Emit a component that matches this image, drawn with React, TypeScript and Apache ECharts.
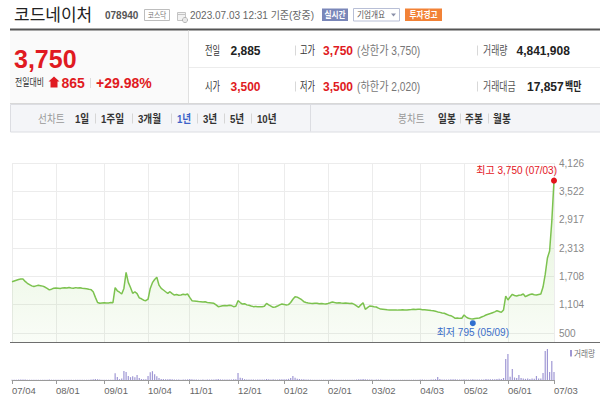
import React, { useEffect, useRef } from "react";
import * as echarts from "echarts";

// ---------- data ----------
const HOLIDAYS = [
  "2022.08.15", "2022.09.09", "2022.09.12", "2022.10.03", "2022.10.10", "2022.12.30",
  "2023.01.23", "2023.01.24", "2023.03.01", "2023.05.01", "2023.05.05", "2023.05.29", "2023.06.06",
];

function buildTradingDays(): string[] {
  const out: string[] = [];
  const d = new Date(Date.UTC(2022, 6, 4));
  const end = Date.UTC(2023, 6, 3);
  while (d.getTime() <= end) {
    const wd = d.getUTCDay();
    const s = `${d.getUTCFullYear()}.${String(d.getUTCMonth() + 1).padStart(2, "0")}.${String(d.getUTCDate()).padStart(2, "0")}`;
    if (wd !== 0 && wd !== 6 && !HOLIDAYS.includes(s)) out.push(s);
    d.setUTCDate(d.getUTCDate() + 1);
  }
  return out;
}
const DATES = buildTradingDays();

// daily close (원)
const PRICES = [
  1594, 1610, 1625, 1640, 1650, 1652, 1600, 1560, 1530, 1505,
  1490, 1505, 1517, 1510, 1500, 1480, 1450, 1420, 1435, 1453,
  1460, 1455, 1448, 1462, 1466, 1458, 1470, 1462, 1455, 1468,
  1460, 1466, 1455, 1450, 1445, 1432, 1425, 1380, 1260, 1150,
  1133, 1140, 1146, 1138, 1142, 1150, 1146, 1466, 1400, 1370,
  1332, 1450, 1795, 1580, 1470, 1347, 1380, 1340, 1250, 1230,
  1200, 1189, 1220, 1450, 1573, 1640, 1688, 1520, 1453, 1417,
  1380, 1347, 1381, 1340, 1310, 1320, 1305, 1310, 1325, 1315,
  1332, 1260, 1189, 1180, 1175, 1170, 1168, 1160, 1165, 1150,
  1145, 1140, 1133, 1100, 1062, 1070, 1080, 1085, 1080, 1090,
  1085, 1062, 1070, 1189, 1150, 1118, 1125, 1100, 1090, 1075,
  1062, 1065, 1060, 1058, 1062, 1070, 1133, 1100, 1075, 1048,
  1055, 1075, 1100, 1118, 1110, 1097, 1105, 1150, 1220, 1274,
  1265, 1240, 1210, 1168, 1150, 1140, 1133, 1128, 1135, 1133,
  1125, 1130, 1122, 1118, 1130, 1145, 1161, 1150, 1140, 1145,
  1138, 1133, 1140, 1135, 1130, 1133, 1110, 1080, 1048, 1100,
  1147, 1005, 1040, 1076, 1070, 1062, 1055, 1030, 1010, 1005,
  1000, 995, 992, 990, 990, 993, 988, 990, 995, 992,
  990, 996, 1000, 1005, 1003, 1008, 1005, 998, 995, 990,
  985, 980, 976, 965, 950, 940, 928, 920, 900, 880,
  869, 845, 814, 818, 812, 814, 884, 840, 814, 805,
  800, 810, 815, 820, 840, 860, 884, 900, 915, 933,
  950, 976, 960, 941, 992, 1289, 1204, 1270, 1325, 1300,
  1290, 1305, 1310, 1332, 1274, 1300, 1320, 1332, 1315, 1310,
  1320, 1330, 1480, 1750, 2100, 2250, 2885, 3750,
];

// daily volume (thousand shares)
const VOLUMES = [
  180, 150, 220, 260, 310, 280, 240, 200, 170, 160,
  150, 140, 170, 130, 120, 160, 210, 250, 180, 150,
  130, 120, 110, 140, 120, 100, 130, 110, 100, 120,
  110, 100, 120, 130, 150, 180, 260, 420, 650, 480,
  300, 220, 180, 160, 150, 170, 200, 4000, 1800, 500,
  900, 5400, 4800, 2400, 1700, 2300, 1600, 3000, 1200, 600,
  420, 480, 2400, 4700, 5300, 3500, 2200, 1200, 600, 550,
  500, 450, 600, 380, 300, 260, 240, 220, 300, 350,
  380, 600, 420, 300, 250, 220, 200, 260, 220, 300,
  280, 240, 300, 420, 560, 380, 300, 280, 250, 320,
  300, 450, 520, 4200, 1300, 1100, 500, 350, 300, 260,
  240, 220, 260, 300, 280, 350, 600, 380, 300, 420,
  330, 300, 450, 500, 380, 420, 700, 1200, 2400, 1300,
  800, 600, 450, 380, 300, 260, 240, 220, 200, 190,
  180, 170, 190, 200, 180, 250, 300, 220, 180, 170,
  160, 150, 170, 160, 150, 140, 200, 300, 380, 450,
  600, 400, 350, 280, 240, 220, 260, 300, 250, 200,
  190, 180, 170, 160, 150, 160, 150, 140, 150, 160,
  150, 170, 180, 200, 190, 220, 260, 230, 200, 180,
  210, 250, 300, 500, 1800, 600, 350, 300, 280, 320,
  500, 420, 380, 300, 260, 240, 450, 300, 280, 320,
  400, 300, 260, 280, 300, 350, 600, 420, 380, 450,
  500, 600, 700, 600, 1200, 12600, 15600, 2000, 6600, 1500,
  1200, 3000, 1200, 900, 700, 900, 600, 900, 700, 2400,
  900, 900, 4200, 17400, 18600, 4800, 11400, 4842,
];

const Y_TICKS = ["500", "1,104", "1,708", "2,313", "2,917", "3,522", "4,126"];
const Y_LO = 500;
const Y_HI = 4126;
const VOL_MAX = 20400;

const HIGH_POINT = { date: "2023.07.03", value: 3750, label: "최고 3,750 (07/03)" };
const LOW_POINT = { date: "2023.05.09", value: 795, label: "최저 795 (05/09)" };

// ---------- styling helpers ----------
const FONT = "'Liberation Sans', 'Noto Sans CJK KR', sans-serif";
const KFONT = "'Noto Sans CJK KR', sans-serif";
const RED = "#e01a22";

function T(
  x: number, y: number, text: string, size: number, fill: string,
  opts: { weight?: string; align?: string; sx?: number; font?: string } = {}
) {
  return {
    type: "text", x, y, scaleX: opts.sx ?? 1, silent: true, z: 50,
    style: {
      text, fontSize: size, fill, fontWeight: opts.weight ?? "normal",
      fontFamily: opts.font ?? FONT, align: opts.align ?? "left", verticalAlign: "middle",
    },
  };
}
function R(x: number, y: number, w: number, h: number, fill: string, stroke?: string) {
  return {
    type: "rect", silent: true, z: 40, shape: { x, y, width: w, height: h },
    style: { fill, stroke: stroke ?? null, lineWidth: stroke ? 1 : 0 },
  };
}
function L(x1: number, y1: number, x2: number, y2: number, stroke: string, lw = 1, z = 45) {
  return { type: "line", silent: true, z, shape: { x1, y1, x2, y2 }, style: { stroke, lineWidth: lw } };
}

const isMonthStart = (i: number) =>
  i === 0 || DATES[i].slice(5, 7) !== DATES[i - 1].slice(5, 7);

function buildGraphics() {
  const g: any[] = [];
  // header
  g.push(T(14, 13, "코드네이처", 17, "#222", { font: KFONT }));
  g.push(T(105, 15, "078940", 10, "#555", { weight: "bold" }));
  g.push(R(144.5, 9.5, 25, 11, "#fff", "#bdbdbd"));
  g.push(T(157, 15, "코스닥", 8, "#777", { align: "center", sx: 0.85 }));
  g.push(R(177.5, 12.5, 8, 8, "#f2f2f2", "#c4c4c4"));
  g.push(L(177.5, 14.5, 185.5, 14.5, "#c4c4c4"));
  g.push({ type: "circle", silent: true, z: 46, shape: { cx: 185, cy: 20, r: 2.6 }, style: { fill: "#e8e8e8", stroke: "#aaa", lineWidth: 0.8 } });
  g.push(T(190, 15, "2023.07.03 12:31 기준(장중)", 10, "#666"));
  g.push(R(322, 8.5, 26, 12.5, "#7a87b9"));
  g.push(T(335, 14.8, "실시간", 9, "#fff", { align: "center", weight: "bold", sx: 0.85 }));
  g.push(R(353.5, 8.5, 46, 12.5, "#fff", "#b8bfd6"));
  g.push(T(357, 14.8, "기업개요", 9, "#555", { sx: 0.85 }));
  g.push({ type: "polygon", silent: true, z: 46, shape: { points: [[391, 13.5], [396, 13.5], [393.5, 16.5]] }, style: { fill: "#8a90a8" } });
  g.push(R(405, 8.5, 37, 12.5, "#f28236"));
  g.push(T(423.5, 14.8, "투자경고", 9, "#fff", { align: "center", weight: "bold", sx: 0.85 }));
  g.push(L(10, 29.5, 600, 29.5, "#555", 2));

  // info panel
  g.push(R(10, 30.5, 178, 73, "#fafafa"));
  g.push(L(188.5, 30.5, 188.5, 103.5, "#e0e0e0"));
  g.push(L(189, 67.5, 600, 67.5, "#ececec"));
  g.push(L(10, 103.5, 600, 103.5, "#d8d8d8"));
  g.push(T(14, 58.5, "3,750", 25, RED, { weight: "bold" }));
  g.push(T(15, 83, "전일대비", 10.5, "#333", { sx: 0.75 }));
  g.push({
    type: "polygon", silent: true, z: 46,
    shape: { points: [[54, 76.5], [59.5, 81.5], [57.5, 81.5], [57.5, 87.5], [50.5, 87.5], [50.5, 81.5], [48.5, 81.5]] },
    style: { fill: RED },
  });
  g.push(T(61.5, 83, "865", 14, RED, { weight: "bold" }));
  g.push(L(90.5, 78, 90.5, 88, "#dcdcdc"));
  g.push(T(96, 83, "+29.98%", 14, RED, { weight: "bold" }));

  const r1 = 50.5, r2 = 86.5;
  g.push(T(205, r1, "전일", 12, "#333", { sx: 0.68 }));
  g.push(T(230.5, r1, "2,885", 12, "#222", { weight: "bold" }));
  g.push(T(205, r2, "시가", 12, "#333", { sx: 0.68 }));
  g.push(T(230.5, r2, "3,500", 12, RED, { weight: "bold" }));
  g.push(L(295.5, r1 - 5, 295.5, r1 + 5, "#d8d8d8"));
  g.push(L(295.5, r2 - 5, 295.5, r2 + 5, "#d8d8d8"));
  g.push(T(300, r1, "고가", 12, "#333", { sx: 0.68 }));
  g.push(T(323, r1, "3,750", 12, RED, { weight: "bold" }));
  g.push(T(357, r1, "(상한가 3,750)", 12, "#777", { sx: 0.85 }));
  g.push(T(300, r2, "저가", 12, "#333", { sx: 0.68 }));
  g.push(T(323, r2, "3,500", 12, RED, { weight: "bold" }));
  g.push(T(357, r2, "(하한가 2,020)", 12, "#777", { sx: 0.85 }));
  g.push(L(477.5, r1 - 5, 477.5, r1 + 5, "#d8d8d8"));
  g.push(L(477.5, r2 - 5, 477.5, r2 + 5, "#d8d8d8"));
  g.push(T(483, r1, "거래량", 12, "#555", { sx: 0.74 }));
  g.push(T(516.5, r1, "4,841,908", 12, "#222", { weight: "bold" }));
  g.push(T(483, r2, "거래대금", 12, "#555", { sx: 0.74 }));
  g.push(T(527, r2, "17,857", 12, "#222", { weight: "bold" }));
  g.push(T(565, r2, "백만", 12, "#222", { weight: "bold", sx: 0.74 }));

  // tab bar
  g.push(R(10.5, 104.5, 590, 27.5, "#f4f5f8", "#dcdde2"));
  g.push(L(310.5, 105, 310.5, 131.5, "#dcdde2"));
  const ty = 118.5;
  const tabs: [number, string, string, string][] = [
    [38, "선차트", "#999", "normal"], [75, "1일", "#333", "bold"], [101, "1주일", "#333", "bold"],
    [138, "3개월", "#333", "bold"], [177, "1년", "#3d63c8", "bold"], [203, "3년", "#333", "bold"],
    [230, "5년", "#333", "bold"], [257, "10년", "#333", "bold"],
    [398, "봉차트", "#999", "normal"], [438, "일봉", "#333", "bold"], [465, "주봉", "#333", "bold"], [493, "월봉", "#333", "bold"],
  ];
  tabs.forEach(([x, s, c, w]) => g.push(T(x, ty, s, 11.5, c, { weight: w, sx: 0.84 })));
  [95.5, 132.5, 171.5, 197.5, 224.5, 251.5, 460.5, 488.5].forEach((x) => g.push(L(x, ty - 5, x, ty + 5, "#d6d6d6")));

  // separator between price and volume panes
  g.push(L(10, 342.5, 600, 342.5, "#6e6e6e", 1, 100));
  // volume legend
  g.push(R(570, 350, 2, 6.5, "#9f97d4"));
  g.push(T(574, 353.5, "거래량", 9, "#777", { sx: 0.85 }));
  return g;
}

export default function App() {
  const ref = useRef<HTMLDivElement>(null);
  useEffect(() => {
    if (!ref.current) return;
    const chart = echarts.init(ref.current, undefined, { renderer: "svg" });
    // price pane extends 9px below the "500" gridline (grid height 179 vs 170)
    const yMin = Y_LO - ((Y_HI - Y_LO) * 9) / 170;
    chart.setOption({
      animation: false,
      backgroundColor: "#fff",
      textStyle: { fontFamily: FONT },
      grid: [
        { left: 12, right: 46, top: 163, height: 179 },
        { left: 12, right: 46, top: 163, height: 170 },
        { left: 12, right: 46, top: 346, height: 34 },
      ],
      xAxis: [
        {
          gridIndex: 0, type: "category", data: DATES, boundaryGap: false,
          axisLine: { show: false }, axisTick: { show: false }, axisLabel: { show: false },
          splitLine: { show: true, interval: (i: number) => isMonthStart(i), lineStyle: { color: "#ececec", width: 1 } },
        },
        { gridIndex: 1, type: "value", min: 0, max: 1, show: false },
        {
          gridIndex: 2, type: "category", data: DATES, boundaryGap: false,
          axisLine: { show: true, lineStyle: { color: "#9a9a9a", width: 1 } },
          axisTick: { show: true, interval: (i: number) => isMonthStart(i), length: 4, lineStyle: { color: "#9a9a9a" } },
          axisLabel: {
            show: true, interval: (i: number) => isMonthStart(i), align: "left",
            formatter: (v: string) => v.slice(5).replace(".", "/"),
            color: "#666", fontSize: 9.5, margin: 6, fontFamily: FONT,
          },
          splitLine: { show: false },
        },
      ],
      yAxis: [
        { gridIndex: 0, type: "value", min: yMin, max: Y_HI, show: false },
        {
          gridIndex: 1, type: "value", min: 0, max: 6, interval: 1, position: "right",
          axisLine: { show: false }, axisTick: { show: false },
          axisLabel: {
            formatter: (v: number) => Y_TICKS[Math.round(v)] ?? "",
            color: "#888", fontSize: 10, margin: 5, fontFamily: FONT,
          },
          splitLine: { show: true, lineStyle: { color: "#ececec", width: 1 } },
        },
        { gridIndex: 2, type: "value", min: 0, max: VOL_MAX, show: false },
      ],
      series: [
        {
          name: "주가", type: "line", xAxisIndex: 0, yAxisIndex: 0, data: PRICES,
          symbol: "none", silent: true,
          lineStyle: { color: "#7cc24f", width: 1.5 },
          areaStyle: {
            color: new echarts.graphic.LinearGradient(0, 0, 0, 1, [
              { offset: 0, color: "rgba(140,205,95,0.34)" },
              { offset: 1, color: "rgba(140,205,95,0.07)" },
            ]),
          },
          markPoint: {
            silent: true,
            data: [
              {
                coord: [HIGH_POINT.date, HIGH_POINT.value], symbol: "circle", symbolSize: 6,
                itemStyle: { color: "#e3141c" },
                label: {
                  show: true, formatter: HIGH_POINT.label, position: [6, -7], align: "right",
                  verticalAlign: "middle", color: "#e3141c", fontSize: 10, fontFamily: FONT,
                },
              },
              {
                coord: [LOW_POINT.date, LOW_POINT.value], symbol: "circle", symbolSize: 6,
                symbolOffset: [0, 4], itemStyle: { color: "#2f6fd0" },
                label: {
                  show: true, formatter: LOW_POINT.label, position: "bottom", distance: 1,
                  color: "#3a6cc8", fontSize: 10, fontFamily: FONT,
                },
              },
            ],
          },
        },
        { type: "line", xAxisIndex: 1, yAxisIndex: 1, data: [], silent: true },
        {
          name: "거래량", type: "bar", xAxisIndex: 2, yAxisIndex: 2, data: VOLUMES,
          barWidth: 1.2, silent: true, itemStyle: { color: "#9f97d4" },
        },
      ],
      graphic: buildGraphics(),
    });
    return () => chart.dispose();
  }, []);
  return (
    <div
      ref={ref}
      style={{ position: "fixed", left: 0, top: 0, width: 600, height: 398, background: "#fff" }}
    />
  );
}
